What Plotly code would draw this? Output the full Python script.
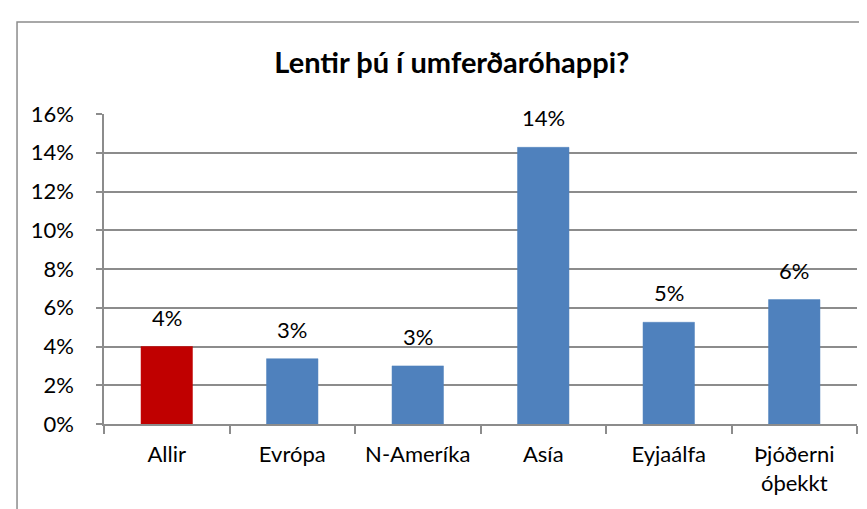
import plotly.graph_objects as go

categories = ["Allir", "Evrópa", "N-Ameríka", "Asía", "Eyjaálfa", "Þjóðerni<br>óþekkt"]
values = [4.0, 3.37, 3.0, 14.28, 5.25, 6.42]
colors = ["#C00000", "#4F81BD", "#4F81BD", "#4F81BD", "#4F81BD", "#4F81BD"]
tick_vals = [0, 2, 4, 6, 8, 10, 12, 14, 16]
tick_text = [f"{v}%" for v in tick_vals]
labels = [f"{round(v)}%" for v in values]

FONT = "Lato, Roboto, sans-serif"
FS = 22

fig = go.Figure()
fig.add_trace(go.Bar(
    x=categories, y=values,
    marker=dict(color=colors, line=dict(color=colors, width=0.5)),
    width=0.41,
    hoverinfo="skip",
))

for c, v, t in zip(categories, values, labels):
    fig.add_annotation(x=c, y=v, text=t, showarrow=False, yanchor="bottom",
                       yshift=14, font=dict(size=FS, color="black", family=FONT))

fig.update_layout(
    width=867, height=509,
    margin=dict(l=96, r=18, t=106, b=93, autoexpand=False),
    paper_bgcolor="white", plot_bgcolor="white",
    showlegend=False,
    title=dict(text="<b>Lentir þú í umferðaróhappi?</b>", x=0.512, xanchor="center",
               y=0.893, yanchor="middle",
               font=dict(size=29, color="black", family=FONT)),
    font=dict(family=FONT, color="black", size=FS),
)
fig.update_yaxes(range=[0, 16], tickvals=tick_vals, ticktext=tick_text,
                 showgrid=True, gridcolor="#8C8C8C", gridwidth=1.5,
                 showline=True, linecolor="#8C8C8C", linewidth=1.5,
                 ticks="outside", ticklen=6, tickcolor="#8C8C8C", tickwidth=1.5,
                 ticklabelstandoff=18, zeroline=False, automargin=False,
                 tickfont=dict(size=FS, family=FONT, color="black"))
fig.update_xaxes(showline=True, linecolor="#8C8C8C", linewidth=1.5,
                 ticks="outside", ticklen=8, tickcolor="#8C8C8C", tickwidth=1.5,
                 tickson="boundaries", ticklabelstandoff=10, automargin=False,
                 tickfont=dict(size=FS, family=FONT, color="black"))

# outer chart frame
fig.add_shape(type="rect", xref="paper", yref="paper",
              x0=-0.1155, x1=2.0, y0=-1.0, y1=1.297,
              line=dict(color="#8C8C8C", width=1.5), layer="below")

fig.write_html("out.html")
